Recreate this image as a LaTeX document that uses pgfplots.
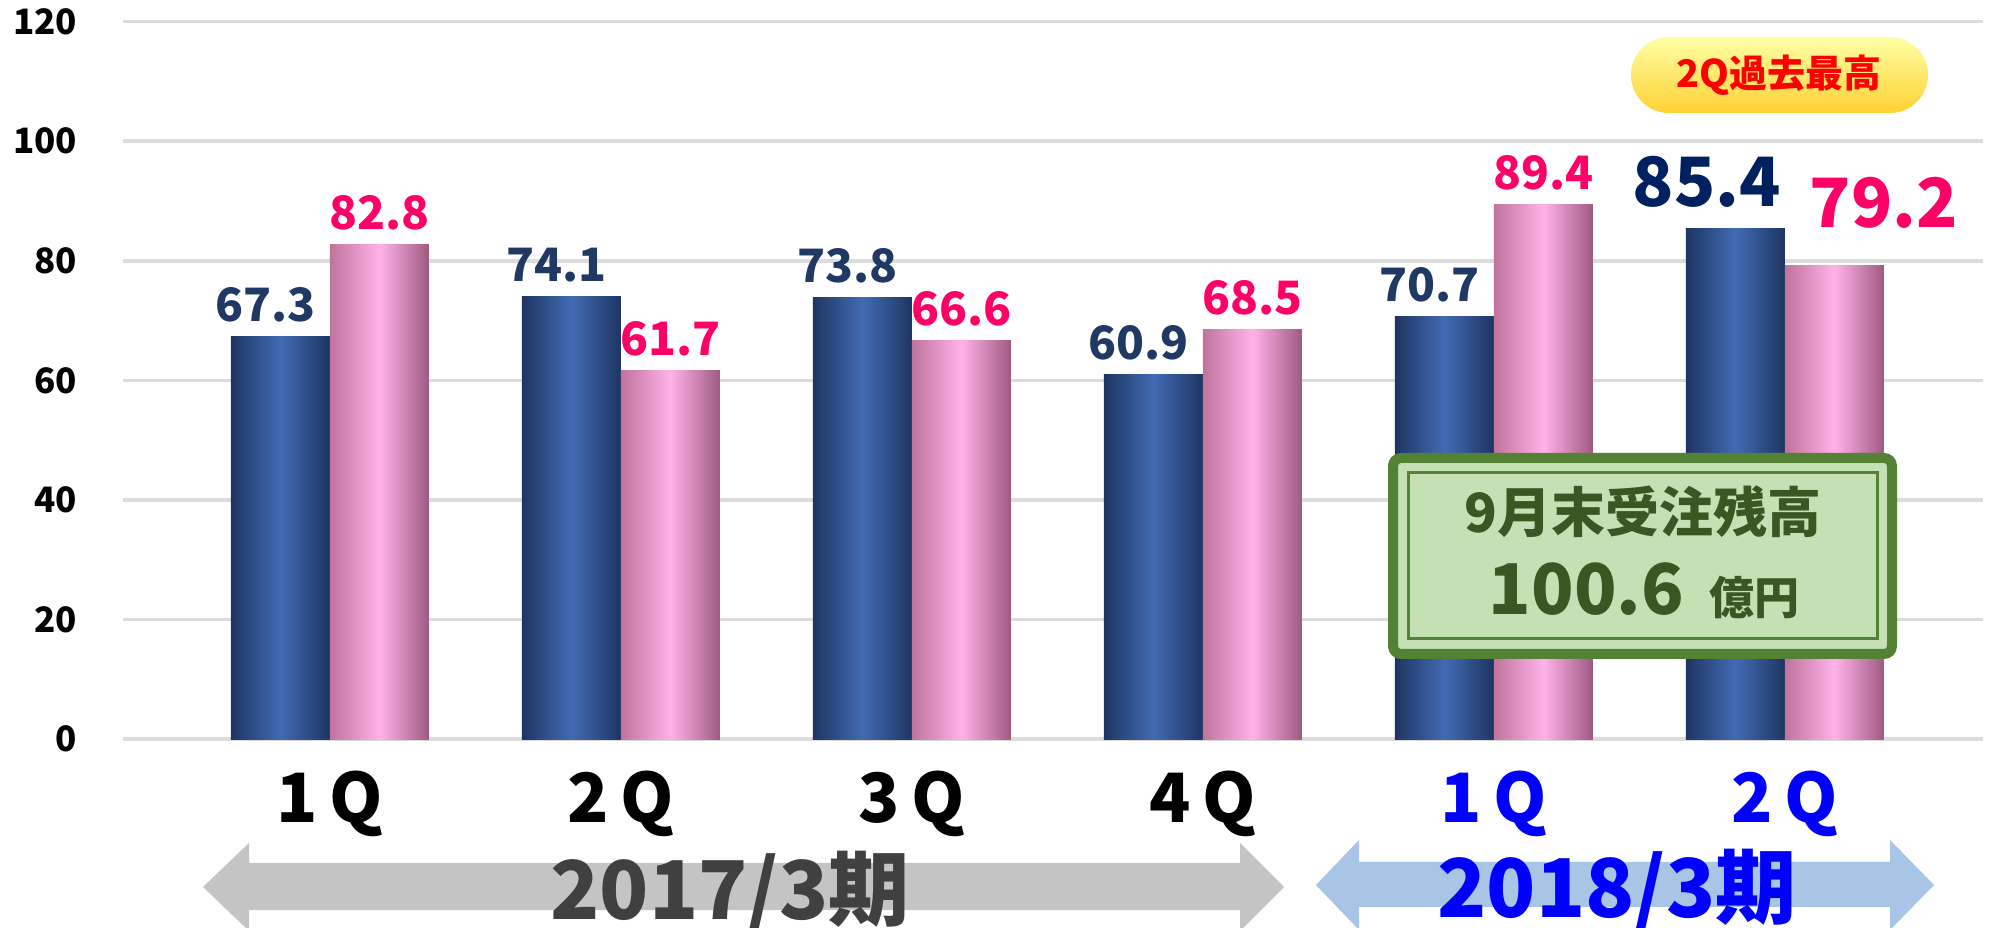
\documentclass[border=0pt]{standalone}
\usepackage{fontspec}
\setmainfont{Noto Sans CJK JP}
\usepackage{xcolor}
\usepackage{pgfplots}
\pgfplotsset{compat=1.18}

\definecolor{navy}{HTML}{203864}
\definecolor{navydeep}{HTML}{002060}
\definecolor{hotpink}{HTML}{FF0066}
\definecolor{bluedark}{HTML}{1E3562}
\definecolor{bluemid}{HTML}{426BB4}
\definecolor{pinkleft}{HTML}{C0749C}
\definecolor{pinkmid}{HTML}{FFB2E8}
\definecolor{pinkright}{HTML}{9E5A80}
\definecolor{gridgrey}{HTML}{DCDCDC}
\definecolor{boxgreen}{HTML}{548235}
\definecolor{boxfill}{HTML}{C5E0B4}
\definecolor{boxtext}{HTML}{385723}
\definecolor{arrowgrey}{HTML}{C4C4C4}
\definecolor{arrowblue}{HTML}{A8C5E6}
\definecolor{yeartext}{HTML}{404040}

\newcommand\fs[1]{\fontsize{#1}{#1}\selectfont}

% one bar per plot so that each bar gets its own cylinder shading
\pgfplotsset{
  bluebar/.style={draw=none, left color=bluedark, right color=bluedark, middle color=bluemid,
    bar shift=-4.95mm, nodes near coords style={text=navy, xshift=-1.5mm}},
  pinkbar/.style={draw=none, left color=pinkleft, right color=pinkright, middle color=pinkmid,
    bar shift=4.95mm, nodes near coords style={text=hotpink}},
}

\begin{document}
\begin{tikzpicture}[x=1mm,y=1mm]
\path[use as bounding box] (0,0) rectangle (199,-92.8);
\begin{axis}[
  at={(12.3mm,-73.9mm)}, anchor=south west,
  scale only axis, width=185.98mm, height=71.73mm,
  xmin=-0.711, xmax=5.68, ymin=0, ymax=120,
  ytick={0,20,...,120},
  xtick={0,...,5},
  xticklabels={1\,Q,2\,Q,3\,Q,4\,Q,\textcolor{blue}{1\,Q},\textcolor{blue}{2\,Q}},
  axis line style={draw=none},
  major tick length=0pt,
  ymajorgrids, grid style={gridgrey, line width=0.35mm},
  /pgf/number format/assume math mode=true,
  yticklabel style={font=\bfseries\fs{3.5mm}, anchor=east, inner sep=0pt, xshift=-4.5mm},
  xticklabel style={font=\bfseries\fs{6.8mm}, anchor=base, inner sep=0pt, yshift=-8.3mm},
  ybar, bar width=9.9mm,
  nodes near coords, point meta=explicit symbolic,
  nodes near coords style={font=\bfseries\fs{4.6mm}, anchor=base, inner sep=0pt, yshift=1.5mm},
  clip=false,
]
% 受注高 (blue)
\addplot[bluebar] coordinates {(0,67.3)[67.3]};
\addplot[bluebar] coordinates {(1,74.1)[74.1]};
\addplot[bluebar] coordinates {(2,73.8)[73.8]};
\addplot[bluebar] coordinates {(3,60.9)[60.9]};
\addplot[bluebar] coordinates {(4,70.7)[70.7]};
\addplot[bluebar] coordinates {(5,85.4)[\relax]};
% 売上高 (pink)
\addplot[pinkbar] coordinates {(0,82.8)[82.8]};
\addplot[pinkbar] coordinates {(1,61.7)[61.7]};
\addplot[pinkbar] coordinates {(2,66.6)[66.6]};
\addplot[pinkbar] coordinates {(3,68.5)[68.5]};
\addplot[pinkbar] coordinates {(4,89.4)[89.4]};
\addplot[pinkbar] coordinates {(5,79.2)[\relax]};
\node[anchor=base, font=\bfseries\fs{6.8mm}, text=navydeep, inner sep=0pt] at (axis cs:4.732,89.0) {85.4};
\node[anchor=base, font=\bfseries\fs{6.8mm}, text=hotpink, inner sep=0pt] at (axis cs:5.340,85.5) {79.2};
\end{axis}

% period arrows
\fill[arrowgrey] (20.3,-88.7) -- (24.9,-84.3) -- (24.9,-86.3) -- (124.0,-86.3) -- (124.0,-84.3)
  -- (128.4,-88.7) -- (124.0,-93.1) -- (124.0,-91.0) -- (24.9,-91.0) -- (24.9,-93.1) -- cycle;
\fill[arrowblue] (131.6,-88.5) -- (135.9,-84.0) -- (135.9,-86.2) -- (189.0,-86.2) -- (189.0,-84.0)
  -- (193.4,-88.5) -- (189.0,-93.0) -- (189.0,-90.7) -- (135.9,-90.7) -- (135.9,-93.0) -- cycle;
\node[anchor=base, font=\bfseries\fs{8.1mm}, text=yeartext, inner sep=0pt] at (73.0,-92.0) {2017/3期};
\node[anchor=base, font=\bfseries\fs{8.1mm}, text=blue, inner sep=0pt] at (161.7,-91.8) {2018/3期};

% badge
\shade[top color=yellow!35, bottom color=orange!45!yellow!80, rounded corners=3.8mm]
  (163.1,-3.7) rectangle (192.8,-11.3);
\node[font=\bfseries\fs{3.8mm}, text=red] at (177.9,-7.5) {2Q過去最高};

% order backlog box
\filldraw[fill=boxfill, draw=boxgreen, line width=1mm, rounded corners=0.8mm]
  (139.3,-45.8) rectangle (189.2,-65.4);
\draw[boxgreen, line width=0.3mm] (140.8,-47.3) rectangle (187.7,-63.9);
\node[anchor=base, font=\bfseries\fs{5.4mm}, text=boxtext, inner sep=0pt] at (164.3,-53.3) {9月末受注残高};
\node[anchor=base, text=boxtext, inner sep=0pt] at (164.4,-61.5)
  {{\bfseries\fs{7mm}100.6}\hspace{2.5mm}{\bfseries\fs{4.5mm}億円}};
\end{tikzpicture}
\end{document}
